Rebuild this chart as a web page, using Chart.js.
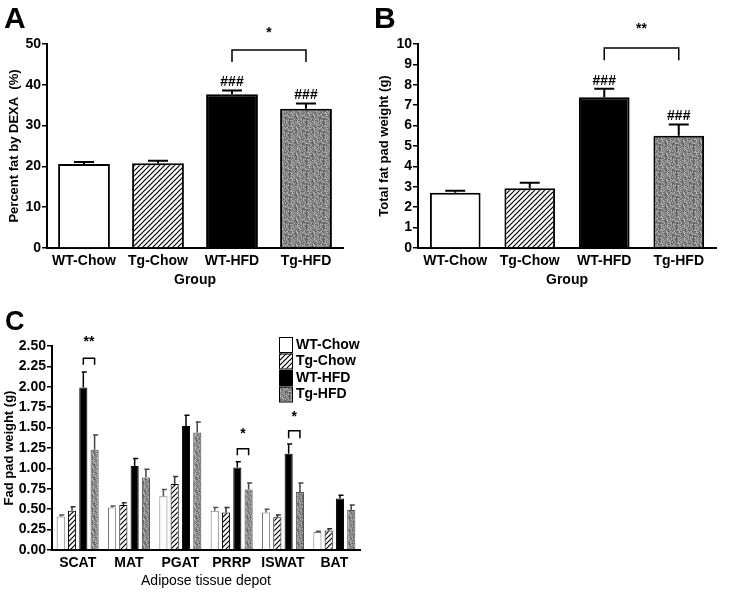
<!DOCTYPE html>
<html>
<head>
<meta charset="utf-8">
<title>Fat mass panels</title>
<script src="https://cdn.jsdelivr.net/npm/chart.js@4.4.1/dist/chart.umd.min.js"></script>
<style>
  body { margin: 0; background: #fff; }
  #wrap { position: relative; width: 739px; height: 598px; background: #fff; overflow: hidden; }
  #wrap canvas { position: absolute; }
  .letter { position: absolute; font: bold 30px "Liberation Sans", Arial, sans-serif; color: #000; line-height: 1; }
</style>
</head>
<body>
<div id="wrap">
  <canvas id="chartA" width="370" height="300" style="left:0;top:0"></canvas>
  <canvas id="chartB" width="369" height="300" style="left:370px;top:0"></canvas>
  <canvas id="chartC" width="370" height="298" style="left:0;top:300px"></canvas>
  <div class="letter" style="left:4px;top:3px">A</div>
  <div class="letter" style="left:374px;top:3px">B</div>
  <div class="letter" style="left:5px;top:308px;font-size:27px">C</div>
</div>
<script>
// ── Data ────────────────────────────────────────────────────────────────────
const groups = ['WT-Chow', 'Tg-Chow', 'WT-HFD', 'Tg-HFD'];

const pctFat    = [20.6, 20.8, 37.7, 34.1];
const pctFatErr = [0.5, 0.6, 0.9, 1.3];
const yTicksA   = [0, 10, 20, 30, 40, 50];
const hashA     = ['', '', '###', '###'];
const starsA    = [{ a: 2, b: 3, mark: '*', level: 48.5, foot: 45.6, star: 52.7 }];

const totalFat    = [2.71, 2.93, 7.39, 5.50];
const totalFatErr = [0.10, 0.27, 0.42, 0.56];
const yTicksB     = [0, 1, 2, 3, 4, 5, 6, 7, 8, 9, 10];
const hashB       = ['', '', '###', '###'];
const starsB      = [{ a: 2, b: 3, mark: '**', level: 9.8, foot: 9.2, star: 10.75 }];

const depots    = ['SCAT', 'MAT', 'PGAT', 'PRRP', 'ISWAT', 'BAT'];
const wtChow    = [0.41, 0.52, 0.66, 0.48, 0.46, 0.22];
const wtChowErr = [0.02, 0.02, 0.08, 0.04, 0.04, 0.01];
const tgChow    = [0.48, 0.55, 0.81, 0.46, 0.40, 0.24];
const tgChowErr = [0.05, 0.03, 0.09, 0.06, 0.03, 0.02];
const wtHfd     = [1.99, 1.03, 1.52, 1.01, 1.18, 0.63];
const wtHfdErr  = [0.19, 0.09, 0.13, 0.07, 0.12, 0.04];
const tgHfd     = [1.23, 0.89, 1.44, 0.74, 0.71, 0.49];
const tgHfdErr  = [0.18, 0.10, 0.13, 0.08, 0.11, 0.06];
const yTicksC   = [0, 0.25, 0.5, 0.75, 1, 1.25, 1.5, 1.75, 2, 2.25, 2.5];
const starsC    = [
    { cat: 0, mark: '**', level: 2.35, foot: 2.27, star: 2.55 },
    { cat: 3, mark: '*',  level: 1.24, foot: 1.16, star: 1.42 },
    { cat: 4, mark: '*',  level: 1.46, foot: 1.37, star: 1.63 }
];

// ── Fill patterns ───────────────────────────────────────────────────────────
const FONT = '"Liberation Sans", Arial, sans-serif';
Chart.defaults.font.family = FONT;
Chart.defaults.color = '#000';

function hatchPattern(size) {
    const c = document.createElement('canvas');
    c.width = size; c.height = size;
    const g = c.getContext('2d');
    g.fillStyle = '#fff';
    g.fillRect(0, 0, size, size);
    g.strokeStyle = '#000';
    g.lineWidth = 1.2;
    g.beginPath();
    g.moveTo(-1, size + 1); g.lineTo(size + 1, -1);
    g.moveTo(-1, 1); g.lineTo(1, -1);
    g.moveTo(size - 1, size + 1); g.lineTo(size + 1, size - 1);
    g.stroke();
    return g.createPattern(c, 'repeat');
}

function stipplePattern() {
    // fixed grain texture for the Tg-HFD bars
    const w = 17, h = 13;
    const c = document.createElement('canvas');
    c.width = w; c.height = h;
    const g = c.getContext('2d');
    const img = g.createImageData(w, h);
    const tones = [95, 110, 125, 135, 145, 155, 170, 185, 120];
    for (let y = 0; y < h; y++) {
        for (let x = 0; x < w; x++) {
            const v = tones[((x * 73 + y * 151) ^ (x * y * 31 + 7)) % tones.length];
            const k = (y * w + x) * 4;
            img.data[k] = img.data[k + 1] = img.data[k + 2] = v;
            img.data[k + 3] = 255;
        }
    }
    g.putImageData(img, 0, 0);
    return g.createPattern(c, 'repeat');
}

const hatch = hatchPattern(5);
const stipple = stipplePattern();
const groupFills = ['#fff', hatch, '#000', stipple];

// ── Plugins ─────────────────────────────────────────────────────────────────
const errorBars = {
    id: 'errorBars',
    afterDatasetsDraw(chart, args, opts) {
        const ctx = chart.ctx, y = chart.scales.y;
        chart.data.datasets.forEach((ds, i) => {
            chart.getDatasetMeta(i).data.forEach((bar, j) => {
                const top = y.getPixelForValue(ds.data[j] + ds.errors[j]);
                const half = opts.cap / 2;
                ctx.save();
                ctx.strokeStyle = ds.errColor || '#000';
                ctx.lineWidth = opts.width;
                ctx.beginPath();
                ctx.moveTo(bar.x, bar.y);
                ctx.lineTo(bar.x, top);
                ctx.moveTo(bar.x - half + (opts.shift || 0), top);
                ctx.lineTo(bar.x + half + (opts.shift || 0), top);
                ctx.stroke();
                ctx.restore();
            });
        });
    }
};

const sigMarks = {
    id: 'sigMarks',
    afterDraw(chart, args, opts) {
        const ctx = chart.ctx, y = chart.scales.y;
        ctx.save();
        ctx.fillStyle = '#000';
        ctx.strokeStyle = '#000';
        ctx.textAlign = 'center';
        (opts.hashes || []).forEach((txt, j) => {
            if (!txt) return;
            const ds = chart.data.datasets[0];
            const bar = chart.getDatasetMeta(0).data[j];
            const top = y.getPixelForValue(ds.data[j] + ds.errors[j]);
            ctx.font = opts.hashFont;
            ctx.textBaseline = 'bottom';
            ctx.fillText(txt, bar.x, top - 1);
        });
        (opts.brackets || []).forEach(b => {
            let x1, x2;
            if (b.cat !== undefined) {
                x1 = chart.getDatasetMeta(2).data[b.cat].x;
                x2 = chart.getDatasetMeta(3).data[b.cat].x;
            } else {
                x1 = chart.getDatasetMeta(0).data[b.a].x;
                x2 = chart.getDatasetMeta(0).data[b.b].x;
            }
            const yl = y.getPixelForValue(b.level), yf = y.getPixelForValue(b.foot);
            ctx.lineWidth = opts.lineWidth;
            ctx.beginPath();
            ctx.moveTo(x1, yf); ctx.lineTo(x1, yl); ctx.lineTo(x2, yl); ctx.lineTo(x2, yf);
            ctx.stroke();
            ctx.font = opts.starFont;
            ctx.textBaseline = 'middle';
            ctx.fillText(b.mark, (x1 + x2) / 2, y.getPixelForValue(b.star));
        });
        ctx.restore();
    }
};

const boxLegend = {
    id: 'boxLegend',
    afterDraw(chart, args, opts) {
        if (!opts.show) return;
        const ctx = chart.ctx;
        ctx.save();
        ctx.font = 'bold 14px ' + FONT;
        ctx.textBaseline = 'middle';
        ctx.textAlign = 'left';
        chart.data.datasets.forEach((ds, i) => {
            const cy = opts.y + i * opts.row;
            ctx.fillStyle = ds.backgroundColor;
            ctx.fillRect(opts.x, cy - 7, 13, 15);
            ctx.strokeStyle = '#000';
            ctx.lineWidth = 1;
            ctx.strokeRect(opts.x + 0.5, cy - 6.5, 13, 15);
            ctx.fillStyle = '#000';
            ctx.fillText(ds.label, opts.x + 17, cy + 1);
        });
        ctx.restore();
    }
};

// ── Chart factory ───────────────────────────────────────────────────────────
function axes(tickList, yTitle, yTitleSize, yWidth, xTitle, xTitleBold, xHeight, xPadBottom, yPadTop, fmt) {
    return {
        x: {
            grid: { display: false, drawTicks: false },
            border: { display: true, color: '#000', width: 2 },
            ticks: { font: { size: 14, weight: 'bold' }, color: '#000', padding: 5 },
            title: { display: true, text: xTitle, color: '#000',
                     font: { size: 14, weight: xTitleBold ? 'bold' : 'normal' },
                     padding: { top: 0, bottom: xPadBottom } },
            afterFit: s => { s.height = xHeight; }
        },
        y: {
            min: tickList[0],
            max: tickList[tickList.length - 1],
            afterBuildTicks: s => { s.ticks = tickList.map(v => ({ value: v })); },
            grid: { display: true, drawOnChartArea: false, drawTicks: true, tickLength: 5, color: '#000', lineWidth: 1.5 },
            border: { display: true, color: '#000', width: 2 },
            ticks: { font: { size: 14, weight: 'bold' }, color: '#000', padding: 1,
                     callback: v => fmt ? v.toFixed(2) : v },
            title: { display: true, text: yTitle, color: '#000',
                     font: { size: yTitleSize, weight: 'bold' },
                     padding: { top: yPadTop, bottom: 0 } },
            afterFit: s => { s.width = yWidth; }
        }
    };
}

function groupChart(id, values, errs, ticks, yTitle, yTitleSize, yWidth, padRight, barPct, hashes, stars) {
    return new Chart(document.getElementById(id), {
        type: 'bar',
        data: {
            labels: groups,
            datasets: [{
                data: values,
                errors: errs,
                backgroundColor: groupFills,
                borderColor: '#000',
                borderWidth: 2,
                barPercentage: barPct,
                categoryPercentage: 1
            }]
        },
        options: {
            responsive: false,
            animation: false,
            devicePixelRatio: 1,
            layout: { padding: { top: 44, right: padRight, left: 0, bottom: 0 } },
            scales: axes(ticks, yTitle, yTitleSize, yWidth, 'Group', true, 52, 11, 7, false),
            plugins: {
                legend: { display: false },
                tooltip: { enabled: false },
                errorBars: { cap: 20, width: 2 },
                sigMarks: { hashes: hashes, brackets: stars, lineWidth: 1.5,
                            hashFont: 'bold 14px ' + FONT, starFont: 'bold 14px ' + FONT },
                boxLegend: { show: false }
            }
        },
        plugins: [errorBars, sigMarks, boxLegend]
    });
}

groupChart('chartA', pctFat, pctFatErr, yTicksA, 'Percent fat by DEXA  (%)', 13, 47, 27, 0.70, hashA, starsA);
groupChart('chartB', totalFat, totalFatErr, yTicksB, 'Total fat pad weight (g)', 13, 48, 23, 0.68, hashB, starsB);

new Chart(document.getElementById('chartC'), {
    type: 'bar',
    data: {
        labels: depots,
        datasets: [
            { label: 'WT-Chow', data: wtChow, errors: wtChowErr, backgroundColor: '#fff', borderColor: '#777', errColor: '#555' },
            { label: 'Tg-Chow', data: tgChow, errors: tgChowErr, backgroundColor: hatch, borderColor: '#000', errColor: '#333' },
            { label: 'WT-HFD',  data: wtHfd,  errors: wtHfdErr,  backgroundColor: '#000', borderColor: '#000', errColor: '#000' },
            { label: 'Tg-HFD',  data: tgHfd,  errors: tgHfdErr,  backgroundColor: stipple, borderColor: '#555', errColor: '#444' }
        ].map(d => Object.assign(d, { borderWidth: 1, barPercentage: 0.72, categoryPercentage: 0.88 }))
    },
    options: {
        responsive: false,
        animation: false,
        devicePixelRatio: 1,
        layout: { padding: { top: 46, right: 10, left: 0, bottom: 0 } },
        scales: axes(yTicksC, 'Fad pad weight (g)', 13, 52, 'Adipose tissue depot', false, 48, 8, 2, true),
        plugins: {
            legend: { display: false },
            tooltip: { enabled: false },
            errorBars: { cap: 5, width: 1.5, shift: 1 },
            sigMarks: { brackets: starsC, lineWidth: 1.5, starFont: 'bold 14px ' + FONT },
            boxLegend: { show: true, x: 279, y: 44, row: 16.5 }
        }
    },
    plugins: [errorBars, sigMarks, boxLegend]
});
</script>
</body>
</html>
